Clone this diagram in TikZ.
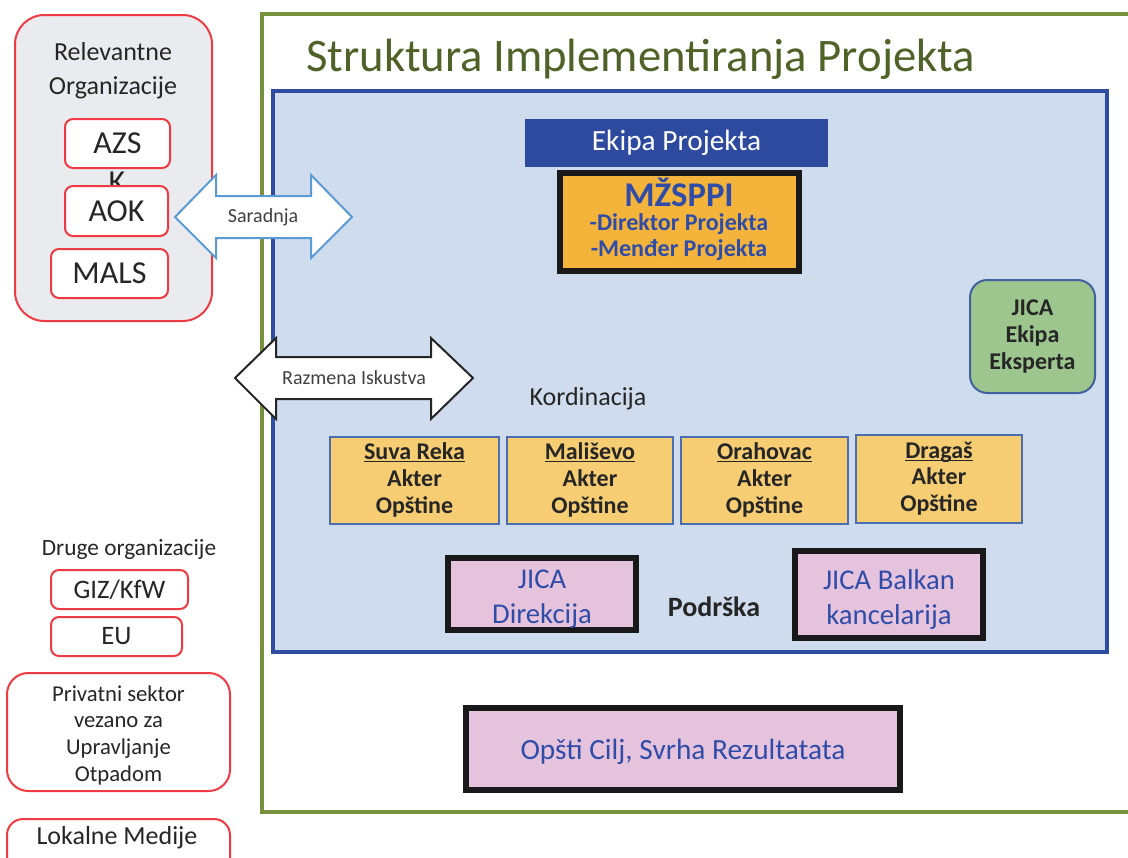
\documentclass[tikz,border=0pt]{standalone}
\usepackage{fontspec}
\setmainfont{Carlito}
\definecolor{frgreen}{HTML}{76923C}
\definecolor{titlegreen}{HTML}{4F6228}
\definecolor{frblue}{HTML}{2E4DA0}
\definecolor{bgblue}{HTML}{CFDCEE}
\definecolor{ekblue}{HTML}{2E4A9E}
\definecolor{orng}{HTML}{F4B43C}
\definecolor{yell}{HTML}{F6CD72}
\definecolor{yellbd}{HTML}{4A6EB0}
\definecolor{pnk}{HTML}{E6C3DD}
\definecolor{txtblue}{HTML}{2F4DA8}
\definecolor{jgreen}{HTML}{9DC68F}
\definecolor{jgreenbd}{HTML}{41619F}
\definecolor{redbd}{HTML}{EE3B43}
\definecolor{grayfill}{HTML}{EAEBEE}
\definecolor{arrblue}{HTML}{5B9BD5}
\definecolor{dtext}{HTML}{262626}
\newcommand\myul[1]{\underline{\vphantom{A}\smash{#1}}}
\begin{document}
\begin{tikzpicture}[x=0.75pt,y=-0.75pt,
  pos/.style n args={4}{at={({(#1+#3)/2},{(#2+#4)/2})},
     minimum width={(#3-#1)*0.75pt}, minimum height={(#4-#2)*0.75pt},
     inner sep=0pt, outer sep=0pt, rectangle, align=center},
  redbox/.style={draw=redbd, line width=1.5pt, fill=white, rounded corners=6pt, text=dtext},
  yelbox/.style={draw=yellbd, line width=1.2pt, fill=yell, text=dtext,
     font=\fontsize{18pt}{20pt}\selectfont\bfseries},
  pinkbox/.style={draw=black!90, line width=4.5pt, fill=pnk, text=txtblue,
     font=\fontsize{21.5pt}{26.5pt}\selectfont},
  plain/.style={inner sep=0pt, align=center, text=dtext},
  dblarrow/.style={fill=white, line width=1.5pt, line join=miter}
]
\path[use as bounding box, clip] (0,0) rectangle (1128,857);
\fill[white] (0,0) rectangle (1128,857);

% ---------- left column: relevant organisations ----------
\node[pos={15}{15}{212}{321}, draw=redbd, line width=1.5pt, fill=grayfill,
      rounded corners=22pt] (relbox) {};
\node[plain, font=\fontsize{19.5pt}{25.5pt}\selectfont] (reltitle) at (113,71)
  {Relevantne\\Organizacije};
\node[pos={65}{119}{170}{168}, redbox, font=\fontsize{24pt}{28pt}\selectfont] (azs) {AZS};
\node[plain, font=\fontsize{24pt}{28pt}\selectfont] (azsk) at (117,182) {K};
\node[pos={65}{186}{168}{236}, redbox, font=\fontsize{24pt}{28pt}\selectfont] (aok) {AOK};
\node[pos={51}{249}{168}{298}, redbox, font=\fontsize{24pt}{28pt}\selectfont] (mals) {MALS};

% ---------- other organisations ----------
\node[plain, font=\fontsize{17.5pt}{20pt}\selectfont] (druge) at (129,549) {Druge organizacije};
\node[pos={51}{570}{188}{609}, redbox, font=\fontsize{20pt}{24pt}\selectfont] (giz) {GIZ/KfW};
\node[pos={51}{617}{182}{656}, redbox, font=\fontsize{20pt}{24pt}\selectfont] (eu) {EU};
\node[pos={7}{673}{230}{791}, redbox, rounded corners=16pt] (priv) {};
\node[plain, font=\fontsize{17pt}{20pt}\selectfont] (privtxt) at (118.5,735)
  {Privatni sektor\\vezano za\\Upravljanje\\Otpadom};
\node[pos={7}{819}{230}{890}, redbox, rounded corners=12pt] (lokbox) {};
\node[plain, font=\fontsize{19.5pt}{23pt}\selectfont] (lok) at (117,838) {Lokalne Medije};

% ---------- main frame ----------
\node[pos={273}{91}{1107}{652}, fill=bgblue] (inner) {};
\draw[frgreen, line width=3pt] (262,14) rectangle (1170,812);
\draw[frblue, line width=2.6pt] (inner.north west) rectangle (inner.south east);

% ---------- double arrows (on top of the frames) ----------
\draw[dblarrow, draw=arrblue]
  (175,217) -- (216,175) -- (216,196) -- (311,196) -- (311,175) -- (352,217)
  -- (311,258) -- (311,238) -- (216,238) -- (216,258) -- cycle;
\node[plain, font=\fontsize{15pt}{18pt}\selectfont, text=black!75] (sar) at (263,217) {Saradnja};
\draw[dblarrow, draw=black!85]
  (235,378) -- (276,338) -- (276,357) -- (431,357) -- (431,338) -- (473,378)
  -- (431,419) -- (431,399) -- (276,399) -- (276,419) -- cycle;
\node[plain, font=\fontsize{15pt}{18pt}\selectfont, text=black!75] (raz) at (354,378) {Razmena Iskustva};

\node[anchor=base west, inner sep=0pt, text=titlegreen,
      font=\fontsize{35pt}{40pt}\selectfont] (title) at (306,71)
  {Struktura Implementiranja Projekta};

% ---------- project team ----------
\node[pos={525}{119}{828}{167}, fill=ekblue, text=white,
      font=\fontsize{22pt}{24pt}\selectfont] (ekipa) {Ekipa Projekta};
\node[pos={560}{173}{799}{271}, draw=black!90, line width=4.5pt, fill=orng] (mz) {};
\node[plain, text=txtblue, font=\fontsize{18pt}{19.5pt}\selectfont\bfseries] (mztxt) at (679,219)
  {{\fontsize{26pt}{27pt}\selectfont MŽSPPI}\\[-1.5pt]
   -Direktor Projekta\\
   -Menđer Projekta};

\node[pos={970}{280}{1095}{393}, draw=jgreenbd, line width=1.5pt, fill=jgreen,
      rounded corners=13pt, text=dtext,
      font=\fontsize{18pt}{20pt}\selectfont\bfseries] (jicaeks)
  {JICA\\Ekipa\\Eksperta};

\node[plain, font=\fontsize{19.5pt}{23pt}\selectfont] (kord) at (588,399) {Kordinacija};

% ---------- municipalities ----------
\node[pos={330}{437}{499}{524}, yelbox] (suva) {\myul{Suva Reka}\\Akter\\Opštine};
\node[pos={507}{437}{673}{524}, yelbox] (mali) {\myul{Mališevo}\\Akter\\Opštine};
\node[pos={681}{437}{848}{524}, yelbox] (orah) {\myul{Orahovac}\\Akter\\Opštine};
\node[pos={856}{435}{1022}{523}, yelbox] (drag) {\myul{Dragaš}\\Akter\\Opštine};

% ---------- support ----------
\node[pos={448}{558}{636}{630}, pinkbox] (jdir) {\rule{0pt}{22pt}JICA\\Direkcija};
\node[plain, font=\fontsize{21pt}{24pt}\selectfont\bfseries] (podr) at (714,607) {Podrška};
\node[pos={795}{551}{983}{638}, pinkbox] (jbal) {\rule{0pt}{22pt}JICA Balkan\\kancelarija};

% ---------- goal ----------
\node[pos={466}{708}{900}{790}, pinkbox, font=\fontsize{22pt}{26pt}\selectfont] (cilj) {\rule{0pt}{19pt}Opšti Cilj, Svrha Rezultatata};
\end{tikzpicture}
\end{document}
